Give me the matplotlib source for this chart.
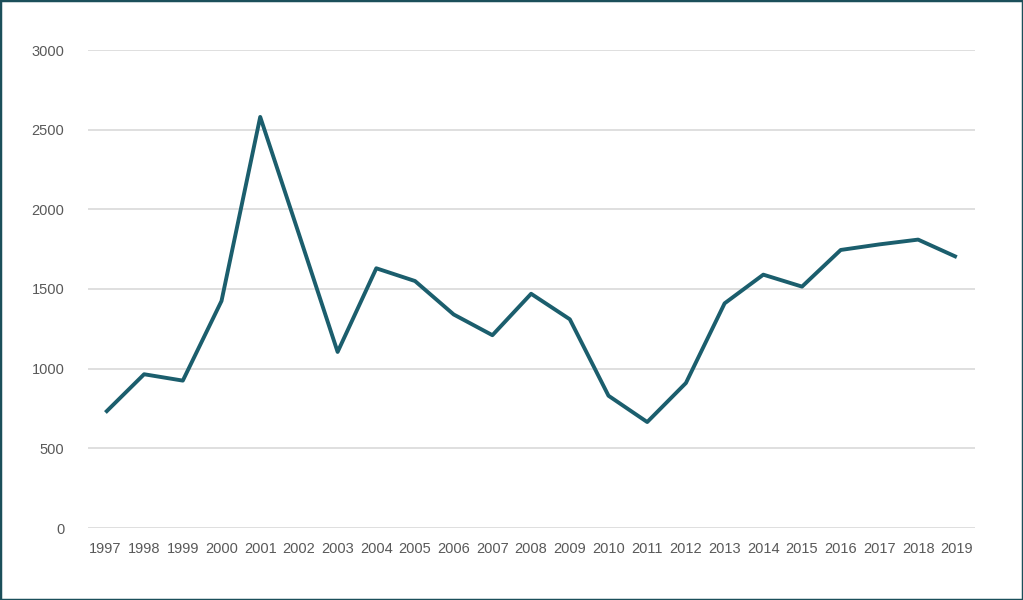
import matplotlib.pyplot as plt
from matplotlib.patches import Rectangle

# Data
years = [str(y) for y in range(1997, 2020)]
values = [725, 965, 925, 1425, 2580, 1845, 1105, 1630, 1550, 1340, 1210, 1470,
          1310, 830, 665, 910, 1410, 1590, 1515, 1745, 1780, 1810, 1700]
y_ticks = [0, 500, 1000, 1500, 2000, 2500, 3000]

LINE_COLOR = "#1b5e6d"
GRID_COLOR = "#d9d9d9"
TEXT_COLOR = "#595959"

plt.rcParams['font.family'] = ['Liberation Sans', 'DejaVu Sans']

fig = plt.figure(figsize=(10.23, 6), dpi=100)
ax = fig.add_axes([88 / 1023, 72 / 600, (975 - 88) / 1023, (528 - 50) / 600])

x = list(range(len(years)))
ax.plot(x, values, color=LINE_COLOR, linewidth=2.8, solid_joinstyle='round',
        solid_capstyle='butt', zorder=3)

ax.set_ylim(0, 3000)
ax.set_xlim(-0.45, len(years) - 1 + 0.47)
ax.set_yticks(y_ticks)
ax.set_xticks(x)
ax.set_xticklabels(years)

ax.grid(axis='y', color=GRID_COLOR, linewidth=1.2)
ax.set_axisbelow(True)
for side in ['top', 'right', 'left', 'bottom']:
    ax.spines[side].set_visible(False)
ax.tick_params(axis='both', length=0, labelsize=10.5, labelcolor=TEXT_COLOR)
ax.tick_params(axis='y', pad=17)
ax.tick_params(axis='x', pad=10)

# thin dark frame around the whole picture
fig.patches.append(Rectangle((0, 0), 1, 1, transform=fig.transFigure,
                             fill=False, edgecolor="#1b4f5a", linewidth=2.5))

fig.savefig("out.png", dpi=100)
